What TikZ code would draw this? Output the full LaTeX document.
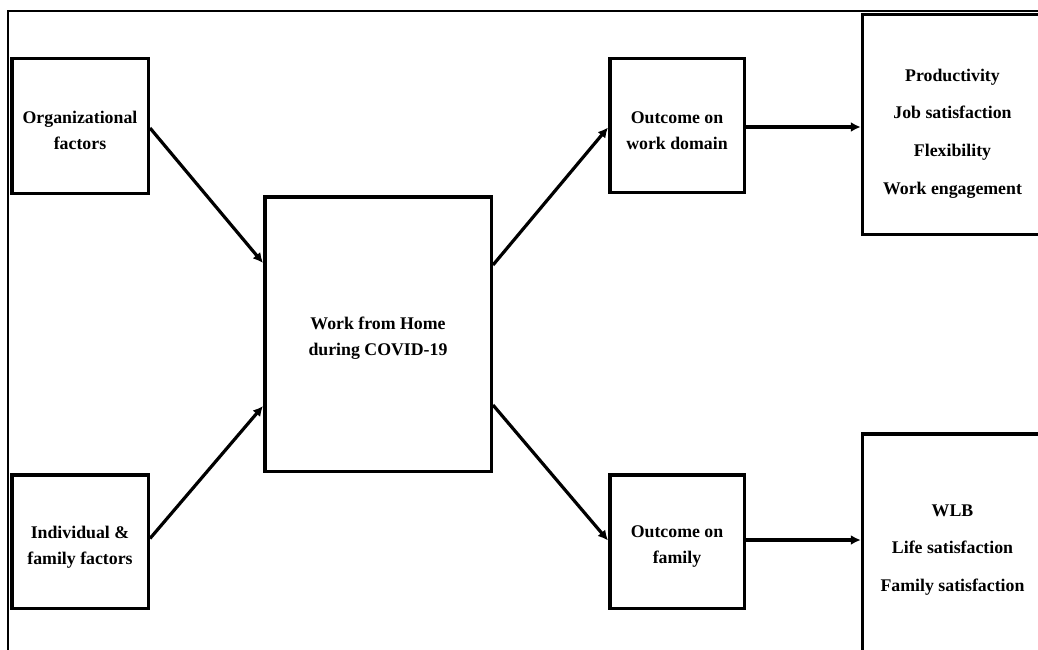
\documentclass[tikz,border=0pt]{standalone}
\usepackage{fontspec}
\setmainfont{Liberation Serif}
\usetikzlibrary{arrows.meta}
\begin{document}
\begin{tikzpicture}[x=1pt,y=-1pt,
  box/.style={draw, line width=3.5pt, inner sep=0pt},
  lbl/.style={inner sep=0pt, align=center, font=\bfseries\fontsize{17.8}{25.5}\selectfont},
  listlbl/.style={lbl, font=\bfseries\fontsize{17.8}{37.7}\selectfont},
  conn/.style={line width=3.2pt, -{Latex[length=10pt,width=10pt]}}]
\clip (0,0) rectangle (1038,650);
\fill[white] (0,0) rectangle (1038,650);
\draw[line width=2pt] (8,11.5) rectangle (1070,680);
\node[box, minimum width=136.5pt, minimum height=134.5pt] (org) at (80,126) {};
\node[box, minimum width=136.5pt, minimum height=133.5pt] (ind) at (80,541.5) {};
\node[box, minimum width=226.5pt, minimum height=274.5pt] (wfh) at (378,334) {};
\node[box, minimum width=134.5pt, minimum height=133.5pt] (ow) at (677,125.5) {};
\node[box, minimum width=134.5pt, minimum height=133.5pt] (of) at (677,541.5) {};
\node[box, minimum width=180pt, minimum height=219.5pt] (r1) at (952.5,124.5) {};
\node[box, minimum width=180pt, minimum height=220.5pt] (r2) at (952.5,544) {};
\node[lbl] (orgt) at (80,130.5) {Organizational\\factors};
\node[lbl] (indt) at (80,547) {Individual \&\\family factors};
\node[lbl] (wfht) at (378,338) {Work from Home\\during COVID-19};
\node[lbl] (owt) at (677,130.5) {Outcome on\\work domain};
\node[lbl] (oft) at (677,546.5) {Outcome on\\family};
\node[listlbl] (r1t) at (952.5,133.5) {Productivity\\Job satisfaction\\Flexibility\\Work engagement};
\node[listlbl] (r2t) at (952.5,550) {WLB\\Life satisfaction\\Family satisfaction};
\draw[conn] ([yshift=-2pt]org.east) -- ([yshift=71pt]wfh.west);
\draw[conn] ([yshift=3pt]ind.east) -- ([yshift=-72pt]wfh.west);
\draw[conn] ([yshift=69pt]wfh.east) -- ([yshift=-2pt]ow.west);
\draw[conn] ([yshift=-71pt]wfh.east) -- ([yshift=1pt]of.west);
\draw[conn] ([yshift=-1.5pt]ow.east) -- ([yshift=-1.5pt]ow.east -| r1.west);
\draw[conn] ([yshift=1.5pt]of.east) -- ([yshift=1.5pt]of.east -| r2.west);
\end{tikzpicture}
\end{document}
